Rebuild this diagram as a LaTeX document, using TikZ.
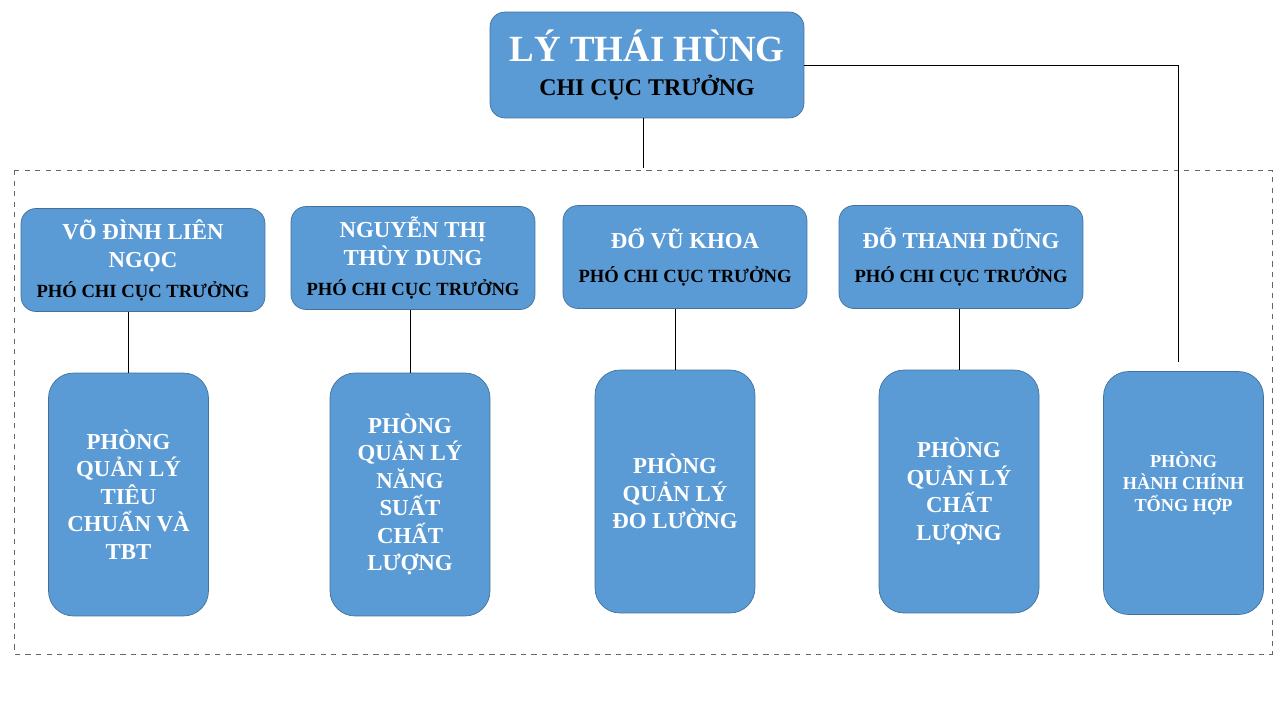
\documentclass[tikz,border=0pt]{standalone}
\usepackage{fontspec}
\setmainfont{LiberationSerif}[Extension=.ttf, UprightFont=*-Regular, BoldFont=*-Bold]
\usepackage{tikz}

\definecolor{boxblue}{HTML}{5B9BD5}
\definecolor{boxline}{HTML}{41719C}

\tikzset{
  chiefbox/.style={draw=boxline, fill=boxblue, rounded corners=0.3cm, align=center,
    minimum width=6.28cm, minimum height=2.12cm, inner sep=0pt},
  deputybox/.style={draw=boxline, fill=boxblue, rounded corners=0.3cm, align=center,
    minimum width=4.88cm, minimum height=2.06cm, inner sep=0pt,
    font=\bfseries\fontsize{13}{16}\selectfont},
  deptbox/.style={draw=boxline, fill=boxblue, rounded corners=0.5cm, align=center,
    minimum width=3.2cm, minimum height=4.86cm, inner sep=0pt, text=white,
    font=\bfseries\fontsize{13}{15.6}\selectfont},
}
\newcommand{\wname}[1]{\textcolor{white}{#1}}
\newcommand{\ptitle}[1]{{\fontsize{10.6}{12}\selectfont #1}}

\begin{document}
\begin{tikzpicture}[x=0.02cm, y=-0.02cm]
   \useasboundingbox (0,0) rectangle (1280,720);
   \draw[dashed, gray!80!black] (14,170) rectangle (1272,654);

   \node[chiefbox, font=\bfseries\fontsize{13.6}{18}\selectfont] (chief) at (647,65)
      {\textcolor{white}{\fontsize{21}{22}\selectfont LÝ THÁI HÙNG}\\[1pt]CHI CỤC TRƯỞNG};

   \node[deputybox] (dep1) at (143,260)
      {\wname{VÕ ĐÌNH LIÊN}\\\wname{NGỌC}\\[1pt]\ptitle{PHÓ CHI CỤC TRƯỞNG}};
   \node[deputybox] (dep2) at (413,258)
      {\wname{NGUYỄN THỊ}\\\wname{THÙY DUNG}\\[1pt]\ptitle{PHÓ CHI CỤC TRƯỞNG}};
   \node[deputybox] (dep3) at (685,257)
      {\wname{ĐỔ VŨ KHOA}\\[3pt]\ptitle{PHÓ CHI CỤC TRƯỞNG}};
   \node[deputybox] (dep4) at (961,257)
      {\wname{ĐỖ THANH DŨNG}\\[3pt]\ptitle{PHÓ CHI CỤC TRƯỞNG}};

   \node[deptbox] (dept1) at (128.5,494.5)
      {PHÒNG\\QUẢN LÝ\\TIÊU\\CHUẨN VÀ\\TBT};
   \node[deptbox] (dept2) at (410,494.5)
      {PHÒNG\\QUẢN LÝ\\NĂNG\\SUẤT\\CHẤT\\LƯỢNG};
   \node[deptbox] (dept3) at (675,491.5)
      {PHÒNG\\QUẢN LÝ\\ĐO LƯỜNG};
   \node[deptbox] (dept4) at (959,491.5)
      {PHÒNG\\QUẢN LÝ\\CHẤT\\LƯỢNG};
   \node[deptbox, font=\bfseries\fontsize{10.4}{12.6}\selectfont] (dept5) at (1183.5,493)
      {PHÒNG\\HÀNH CHÍNH\\TỔNG HỢP\\[0pt]\mbox{}};

   \coordinate (top) at (643,168);
   \coordinate (hc) at (1178,362);
   \draw (top |- chief.south) -- (top);
   \draw (chief.east) -| (hc);
   \draw (dept1.north |- dep1.south) -- (dept1.north);
   \draw (dept2.north |- dep2.south) -- (dept2.north);
   \draw (dept3.north |- dep3.south) -- (dept3.north);
   \draw (dept4.north |- dep4.south) -- (dept4.north);
\end{tikzpicture}
\end{document}
